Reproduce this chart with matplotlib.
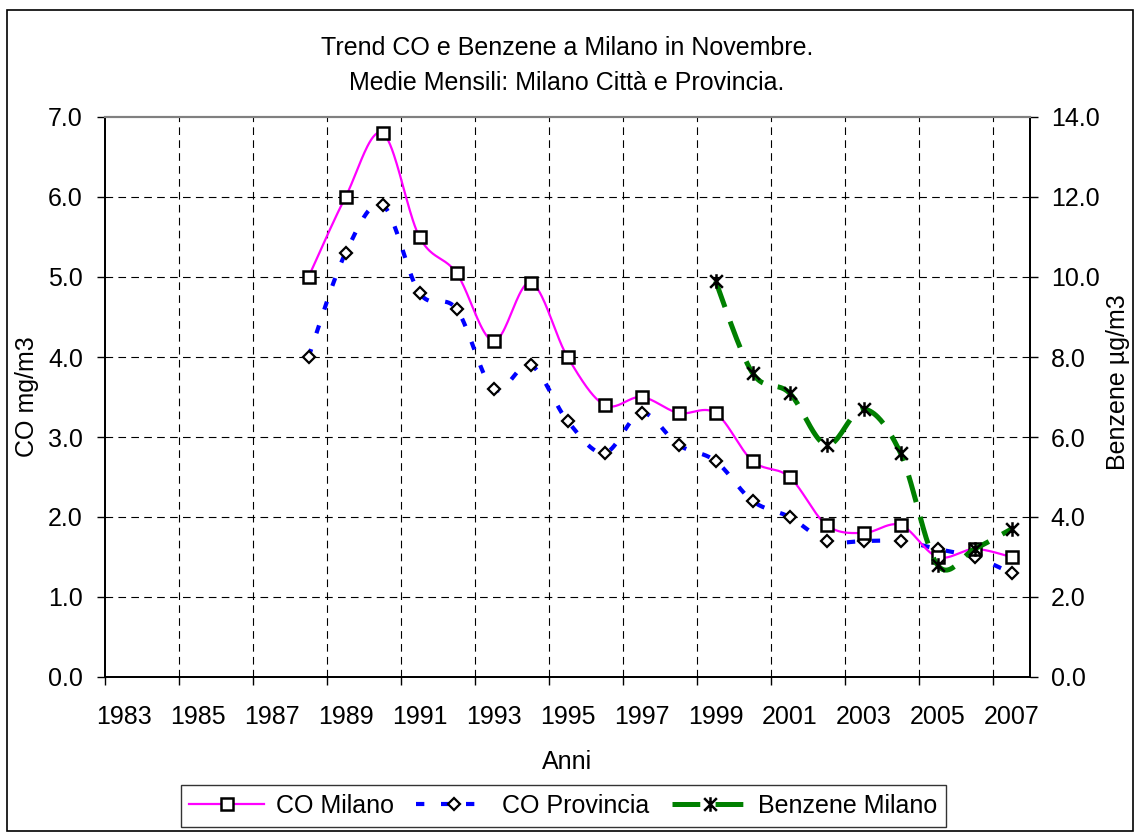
import numpy as np
import matplotlib
matplotlib.use('Agg')
import matplotlib.pyplot as plt
from matplotlib.path import Path
from matplotlib.lines import Line2D
from matplotlib.patches import Rectangle

plt.rcParams['font.family'] = ['Liberation Sans', 'DejaVu Sans']
plt.rcParams['lines.scale_dashes'] = False

# ---------------- data ----------------
categories = list(range(1983, 2008))
tick_labels = [str(y) for y in range(1983, 2008, 2)]
years_co = list(range(1988, 2008))
co_milano = [5.0, 6.0, 6.8, 5.5, 5.05, 4.2, 4.93, 4.0, 3.4, 3.5,
             3.3, 3.3, 2.7, 2.5, 1.9, 1.8, 1.9, 1.5, 1.6, 1.5]
co_provincia = [4.0, 5.3, 5.9, 4.8, 4.6, 3.6, 3.9, 3.2, 2.8, 3.3,
                2.9, 2.7, 2.2, 2.0, 1.7, 1.7, 1.7, 1.6, 1.5, 1.3]
years_bz = list(range(1999, 2008))
benzene = [9.9, 7.6, 7.1, 5.8, 6.7, 5.6, 2.8, 3.2, 3.7]


def smooth(x, y, n=40):
    """Excel-like smoothed line (Catmull-Rom Bezier) through the points."""
    P = np.column_stack([np.asarray(x, float), np.asarray(y, float)])
    out = [P[0:1]]
    t = np.linspace(0, 1, n)[1:, None]
    for i in range(len(P) - 1):
        p0 = P[i - 1] if i > 0 else P[i]
        p1, p2 = P[i], P[i + 1]
        p3 = P[i + 2] if i + 2 < len(P) else P[i + 1]
        c1 = p1 + (p2 - p0) / 6.0
        c2 = p2 - (p3 - p1) / 6.0
        seg = ((1 - t) ** 3) * p1 + 3 * ((1 - t) ** 2) * t * c1 + 3 * (1 - t) * t ** 2 * c2 + t ** 3 * p2
        out.append(seg)
    pts = np.vstack(out)
    return pts[:, 0], pts[:, 1]


W, H = 1135, 832
fig = plt.figure(figsize=(W / 100, H / 100), dpi=100)
L, R, T, B = 105, 1030, 117, 677
ax = fig.add_axes([L / W, 1 - B / H, (R - L) / W, (B - T) / H])
ax2 = ax.twinx()

FS = 18

# styles
mag = '#FF00FF'
blu = '#0000FF'
grn = '#008000'
star = Path([(-1, -1), (1, 1), (-1, 1), (1, -1), (0, -1.15), (0, 1.15)],
            [Path.MOVETO, Path.LINETO, Path.MOVETO, Path.LINETO, Path.MOVETO, Path.LINETO])

# axes ranges
ax.set_xlim(categories[0] - 0.5, categories[-1] + 0.5)
ax.set_ylim(0, 7)
ax2.set_ylim(0, 14)

# grid
dash_grid = (0, (5.5, 3.8))
for y in range(1, 7):
    ax.axhline(y, color='black', lw=0.8, ls=dash_grid, zorder=1)
for xb in np.arange(categories[0] + 1.5, categories[-1], 2):
    ax.axvline(xb, color='black', lw=0.8, ls=dash_grid, zorder=1)

# CO Milano
sx, sy = smooth(years_co, co_milano)
ax.plot(sx, sy, color=mag, lw=1.6, zorder=3)
ax.plot(years_co, co_milano, ls='none', marker='s', ms=9, mfc='white', mec='black', mew=1.8, zorder=5)

# CO Provincia
sx, sy = smooth(years_co, co_provincia)
ax.plot(sx, sy, color=blu, lw=3.0, ls=(0, (6, 12)), dash_capstyle='butt', zorder=2)
ax.plot(years_co, co_provincia, ls='none', marker='D', ms=6.2, mfc='white', mec='black', mew=1.6, zorder=4)

# Benzene (right axis)
sx, sy = smooth(years_bz, benzene)
ax2.plot(sx, sy, color=grn, lw=3.6, ls=(0, (20, 11)), dash_capstyle='butt', zorder=2)
ax2.plot(years_bz, benzene, ls='none', marker=star, ms=10.5, mfc='none', mec='black', mew=1.8, zorder=4)

# ticks
ax.set_xticks(categories[::2])
ax.set_xticklabels(tick_labels)
ax.set_xticks(np.arange(categories[0] - 0.5, categories[-1] + 0.6, 2), minor=True)
ax.tick_params(axis='x', which='major', length=0, pad=20, labelsize=FS)
ax.tick_params(axis='x', which='minor', length=6, width=1, direction='out', color='black')
ax.set_yticks(np.arange(0, 7.01, 1))
ax.set_yticklabels([f'{v:.1f}' for v in np.arange(0, 7.01, 1)])
ax.tick_params(axis='y', length=6, width=1, direction='out', pad=10, labelsize=FS)
ax2.set_yticks(np.arange(0, 14.01, 2))
ax2.set_yticklabels([f'{v:.1f}' for v in np.arange(0, 14.01, 2)])
ax2.tick_params(axis='y', length=6, width=1, direction='out', pad=9, labelsize=FS)

for a in (ax, ax2):
    for s in ('left', 'right', 'bottom'):
        a.spines[s].set_color('black')
        a.spines[s].set_linewidth(1.3)
    a.spines['top'].set_color('#808080')
    a.spines['top'].set_linewidth(1.5)

# labels & title
ax.set_xlabel('Anni', fontsize=FS, labelpad=15)
fig.text(27 / W, 1 - 397 / H, 'CO mg/m3', rotation=90, ha='center', va='center', fontsize=FS)
fig.text(1118 / W, 1 - 382 / H, 'Benzene µg/m3', rotation=90, ha='center', va='center', fontsize=FS)
fig.text(567 / W, 1 - 48 / H, 'Trend CO e Benzene a Milano in Novembre.', ha='center', va='center', fontsize=FS)
fig.text(567 / W, 1 - 83 / H, 'Medie Mensili: Milano Città e Provincia.', ha='center', va='center', fontsize=FS)

# legend
handles = [
    Line2D([], [], color=mag, lw=1.6, marker='s', ms=9, mfc='white', mec='black', mew=1.8),
    Line2D([], [], color=blu, lw=3.0, ls=(0, (6, 12)), marker='D', ms=6.2, mfc='white', mec='black', mew=1.6),
    Line2D([], [], color=grn, lw=3.6, ls=(0, (20, 11)), marker=star, ms=10.5, mfc='none', mec='black', mew=1.8),
]
leg = fig.legend(handles, ['CO Milano', 'CO Provincia', 'Benzene Milano'],
                 loc='center', bbox_to_anchor=(563.5 / W, 1 - 806 / H), ncol=3,
                 fontsize=FS, handlelength=3.0, handletextpad=0.45, columnspacing=0.9,
                 borderpad=0.35, borderaxespad=0, frameon=True, fancybox=False, numpoints=1)
leg.get_frame().set_edgecolor('black')
leg.get_frame().set_linewidth(1.0)

# chart-area border
fig.patches.append(Rectangle((7 / W, 1 / H), (W - 9) / W, (H - 11) / H, transform=fig.transFigure,
                             fill=False, ec='black', lw=1.2))

fig.savefig('out.png', dpi=100)
